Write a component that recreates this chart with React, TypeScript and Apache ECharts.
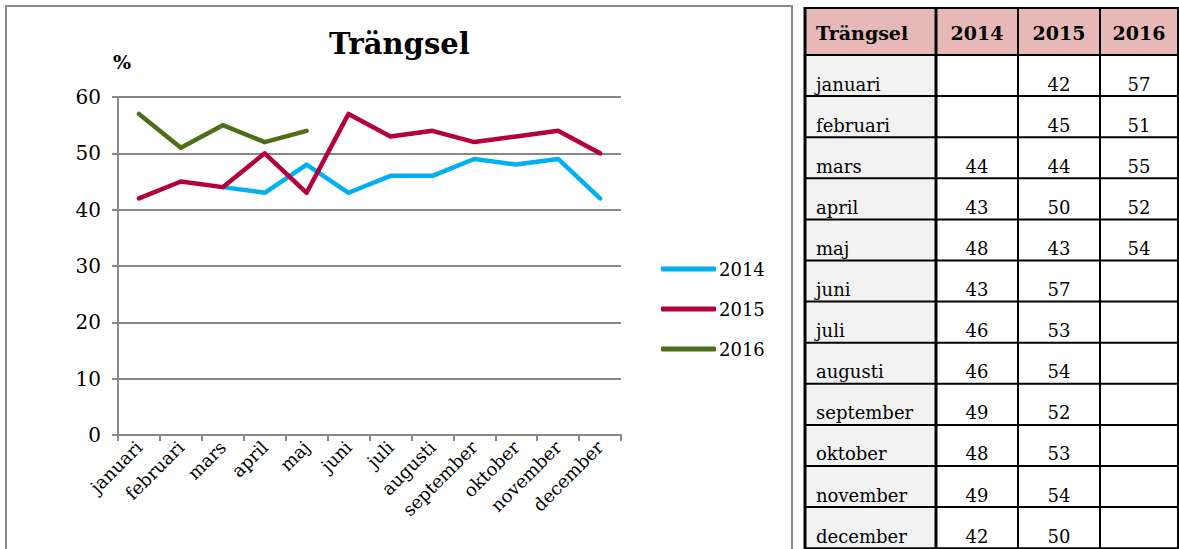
import React, { useEffect, useRef } from "react";
import * as echarts from "echarts";

const months = ["januari", "februari", "mars", "april", "maj", "juni", "juli", "augusti", "september", "oktober", "november", "december"];
const years = ["2014", "2015", "2016"];
const v2014: (number | null)[] = [null, null, 44, 43, 48, 43, 46, 46, 49, 48, 49, 42];
const v2015: (number | null)[] = [42, 45, 44, 50, 43, 57, 53, 54, 52, 53, 54, 50];
const v2016: (number | null)[] = [57, 51, 55, 52, 54, null, null, null, null, null, null, null];
const colors = ["#00B0F0", "#B3003B", "#4F6E18"];
const title = "Trängsel";
const yUnit = "%";

const FONT = "'DejaVu Serif', serif";

function buildTable(): any[] {
  const colX = [805, 936, 1018, 1100, 1178];
  const headTop = 8;
  const headBottom = 55;
  const rowH = 41.1;
  const bottom = 600;
  const els: any[] = [];
  els.push({ type: "rect", silent: true, shape: { x: colX[0], y: headTop, width: colX[4] - colX[0], height: headBottom - headTop }, style: { fill: "#E6B8B7" } });
  els.push({ type: "rect", silent: true, shape: { x: colX[0], y: headBottom, width: colX[1] - colX[0], height: bottom - headBottom }, style: { fill: "#F2F2F2" } });
  const hLines = [headTop, headBottom];
  for (let i = 1; i <= months.length; i++) hLines.push(headBottom + i * rowH);
  hLines.forEach((y) => {
    els.push({ type: "line", silent: true, shape: { x1: colX[0] - 1, y1: y, x2: colX[4] + 1, y2: y }, style: { stroke: "#000", lineWidth: 2 } });
  });
  colX.forEach((x, i) => {
    els.push({ type: "line", silent: true, shape: { x1: x, y1: headTop - 1, x2: x, y2: bottom }, style: { stroke: "#000", lineWidth: i <= 1 ? 3 : 2 } });
  });
  const headers = [title, ...years];
  headers.forEach((h, i) => {
    els.push({
      type: "text", silent: true, x: i === 0 ? colX[0] + 11 : (colX[i] + colX[i + 1]) / 2, y: 33,
      style: { text: h, font: `bold 19px ${FONT}`, fill: "#000", textAlign: i === 0 ? "left" : "center", textVerticalAlign: "middle" },
    });
  });
  const cols = [v2014, v2015, v2016];
  months.forEach((m, r) => {
    const cy = headBottom + r * rowH + 29;
    els.push({ type: "text", silent: true, x: colX[0] + 11, y: cy, style: { text: m, font: `18px ${FONT}`, fill: "#000", textAlign: "left", textVerticalAlign: "middle" } });
    cols.forEach((arr, c) => {
      const v = arr[r];
      if (v == null) return;
      els.push({ type: "text", silent: true, x: (colX[c + 1] + colX[c + 2]) / 2, y: cy, style: { text: String(v), font: `18px ${FONT}`, fill: "#000", textAlign: "center", textVerticalAlign: "middle" } });
    });
  });
  return els;
}

export default function App() {
  const ref = useRef<HTMLDivElement>(null);
  useEffect(() => {
    if (!ref.current) return;
    const chart = echarts.init(ref.current, undefined, { renderer: "svg" });
    const seriesData = [v2014, v2015, v2016];
    chart.setOption({
      animation: false,
      backgroundColor: "#fff",
      title: {
        text: title,
        left: 329,
        top: 29,
        padding: 0,
        textStyle: { fontFamily: FONT, fontWeight: "bold", fontSize: 29, color: "#000" },
      },
      legend: {
        orient: "vertical",
        left: 661,
        top: 260,
        padding: 0,
        itemWidth: 55,
        itemHeight: 5,
        itemGap: 22,
        icon: "roundRect",
        textStyle: { fontFamily: FONT, fontSize: 18, color: "#000", padding: [0, 0, 0, -2] },
        data: years,
      },
      grid: { left: 118, top: 97, right: 1179 - 621, bottom: 549 - 435, containLabel: false },
      xAxis: {
        type: "category",
        data: months,
        boundaryGap: true,
        axisLine: { lineStyle: { color: "#888", width: 2 } },
        axisTick: { show: true, length: 6, lineStyle: { color: "#888", width: 2 } },
        axisLabel: { rotate: 45, margin: 9, interval: 0, fontFamily: FONT, fontSize: 18, color: "#000" },
      },
      yAxis: {
        type: "value",
        min: 0,
        max: 60,
        interval: 10,
        name: yUnit,
        nameLocation: "end",
        nameGap: 26,
        nameTextStyle: { fontFamily: FONT, fontWeight: "bold", fontSize: 19, color: "#000", padding: [0, 0, 0, 8] },
        axisLine: { show: true, lineStyle: { color: "#888", width: 2 } },
        axisTick: { show: true, length: 6, lineStyle: { color: "#888", width: 2 } },
        axisLabel: { margin: 17, fontFamily: FONT, fontSize: 20, color: "#000" },
        splitLine: { lineStyle: { color: "#888", width: 2 } },
      },
      series: years.map((y, i) => ({
        name: y,
        type: "line",
        data: seriesData[i],
        showSymbol: false,
        symbol: "none",
        connectNulls: false,
        color: colors[i],
        lineStyle: { width: 4.5, color: colors[i], cap: "round", join: "round" },
      })),
      graphic: [
        { type: "rect", silent: true, z: -1, shape: { x: 6, y: 6, width: 786, height: 560 }, style: { fill: "none", stroke: "#888", lineWidth: 2 } },
        ...buildTable(),
      ],
    });
    return () => chart.dispose();
  }, []);
  return <div ref={ref} style={{ position: "absolute", left: 0, top: 0, width: 1179, height: 549 }} />;
}
